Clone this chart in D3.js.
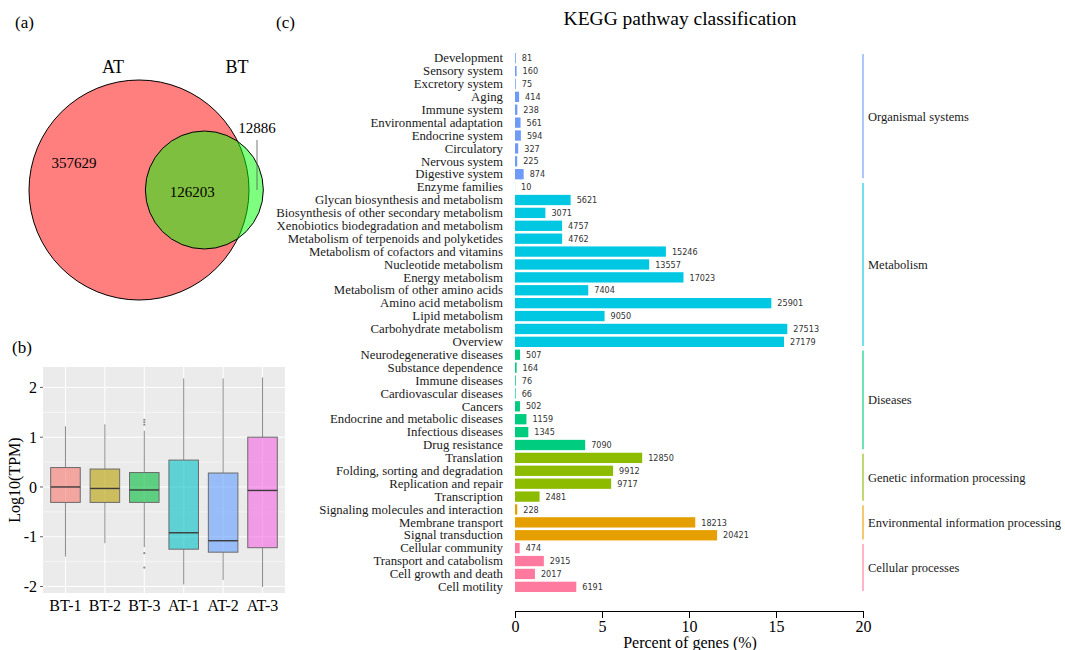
<!DOCTYPE html>
<html>
<head>
<meta charset="utf-8">
<script src="https://cdn.jsdelivr.net/npm/d3@7"></script>
<style>
  body { margin: 0; background: #fff; }
  svg { display: block; }
</style>
</head>
<body>
<script>
// ---- data ----
// (a) venn: AT only, shared, BT only
var vennSets = ["AT", "BT"];
var vennCounts = [357629, 126203, 12886];

// (b) boxplot of log10(TPM)
var boxGroups = ["BT-1", "BT-2", "BT-3", "AT-1", "AT-2", "AT-3"];
var boxColors = ["#F8766D", "#B79F00", "#00BA38", "#00BFC4", "#619CFF", "#F564E3"];
var whiskerLow = [-1.40, -1.13, -1.21, -1.96, -1.87, -2.01];
var q1 = [-0.31, -0.31, -0.31, -1.25, -1.31, -1.22];
var median = [0.00, -0.03, -0.06, -0.92, -1.08, -0.07];
var q3 = [0.39, 0.36, 0.29, 0.54, 0.28, 1.00];
var whiskerHigh = [1.22, 1.26, 1.13, 2.18, 2.18, 2.20];
var outliers = [[], [], [1.35, 1.30, 1.25, -1.33, -1.62], [], [], []];
var boxTicks = [-2, -1, 0, 1, 2];

// (c) KEGG classification
var pathways = [
  "Development", "Sensory system", "Excretory system", "Aging", "Immune system",
  "Environmental adaptation", "Endocrine system", "Circulatory", "Nervous system", "Digestive system",
  "Enzyme families", "Glycan biosynthesis and metabolism", "Biosynthesis of other secondary metabolism",
  "Xenobiotics biodegradation and metabolism", "Metabolism of terpenoids and polyketides",
  "Metabolism of cofactors and vitamins", "Nucleotide metabolism", "Energy metabolism",
  "Metabolism of other amino acids", "Amino acid metabolism", "Lipid metabolism",
  "Carbohydrate metabolism", "Overview",
  "Neurodegenerative diseases", "Substance dependence", "Immune diseases", "Cardiovascular diseases",
  "Cancers", "Endocrine and metabolic diseases", "Infectious diseases", "Drug resistance",
  "Translation", "Folding, sorting and degradation", "Replication and repair", "Transcription",
  "Signaling molecules and interaction", "Membrane transport", "Signal transduction",
  "Cellular community", "Transport and catabolism", "Cell growth and death", "Cell motility"
];
var geneCounts = [
  81, 160, 75, 414, 238, 561, 594, 327, 225, 874,
  10, 5621, 3071, 4757, 4762, 15246, 13557, 17023, 7404, 25901, 9050, 27513, 27179,
  507, 164, 76, 66, 502, 1159, 1345, 7090,
  12850, 9912, 9717, 2481,
  228, 18213, 20421,
  474, 2915, 2017, 6191
];
var groupNames = ["Organismal systems", "Metabolism", "Diseases",
  "Genetic information processing", "Environmental information processing", "Cellular processes"];
var groupSizes = [10, 13, 8, 4, 3, 4];
var groupColors = ["#6E9BF8", "#00C8E3", "#00CC80", "#8DBB00", "#E69F00", "#FF7A9E"];
var totalGenes = 175800;
var percentTicks = [0, 5, 10, 15, 20];

var serif = "'Liberation Serif', 'Times New Roman', serif";
var narrow = "'DejaVu Sans Condensed', 'Liberation Sans Narrow', 'Arial Narrow', sans-serif";

var svg = d3.select("body").append("svg")
  .attr("width", 1065).attr("height", 650)
  .style("font-family", serif);

// panel letters
svg.append("text").attr("x", 15).attr("y", 28).attr("font-size", 17).text("(a)");
svg.append("text").attr("x", 12).attr("y", 353).attr("font-size", 17).text("(b)");
svg.append("text").attr("x", 276).attr("y", 28).attr("font-size", 17).text("(c)");

// ---------- (a) Venn ----------
var atTotal = vennCounts[0] + vennCounts[1];
var btTotal = vennCounts[1] + vennCounts[2];
var rScale = d3.scaleSqrt().domain([0, atTotal]).range([0, 110]);
var r1 = rScale(atTotal), r2 = rScale(btTotal);

function lensArea(d) {
  var a = r1 * r1 * Math.acos((d * d + r1 * r1 - r2 * r2) / (2 * d * r1));
  var b = r2 * r2 * Math.acos((d * d + r2 * r2 - r1 * r1) / (2 * d * r2));
  var c = 0.5 * Math.sqrt((-d + r1 + r2) * (d + r1 - r2) * (d - r1 + r2) * (d + r1 + r2));
  return a + b - c;
}
// find centre distance so the shared area matches its count
var wanted = Math.PI * r1 * r1 * vennCounts[1] / atTotal;
var lo = r1 - r2 + 0.01, hi = r1 + r2 - 0.01;
for (var i = 0; i < 60; i++) {
  var mid = (lo + hi) / 2;
  if (lensArea(mid) > wanted) lo = mid; else hi = mid;
}
var dist = (lo + hi) / 2;
var c1 = [139, 190], c2 = [139 + dist, 190];

svg.append("circle").attr("cx", c1[0]).attr("cy", c1[1]).attr("r", r1)
  .attr("fill", "rgba(255,0,0,0.5)").attr("stroke", "#000").attr("stroke-width", 1);
svg.append("circle").attr("cx", c2[0]).attr("cy", c2[1]).attr("r", r2)
  .attr("fill", "rgba(0,255,0,0.5)").attr("stroke", "#000").attr("stroke-width", 1);

svg.append("text").attr("x", 113).attr("y", 73).attr("font-size", 18)
  .attr("text-anchor", "middle").text(vennSets[0]);
svg.append("text").attr("x", 237).attr("y", 73).attr("font-size", 18)
  .attr("text-anchor", "middle").text(vennSets[1]);
svg.append("text").attr("x", 74).attr("y", 168).attr("font-size", 15)
  .attr("text-anchor", "middle").text(vennCounts[0]);
svg.append("text").attr("x", c2[0] - 12).attr("y", 197).attr("font-size", 15)
  .attr("text-anchor", "middle").text(vennCounts[1]);
svg.append("text").attr("x", 257).attr("y", 133).attr("font-size", 15)
  .attr("text-anchor", "middle").text(vennCounts[2]);
svg.append("line").attr("x1", 257).attr("x2", 257).attr("y1", 140).attr("y2", 190)
  .attr("stroke", "#555").attr("stroke-width", 0.8);

// ---------- (b) boxplot ----------
var bx = d3.scalePoint().domain(boxGroups).range([43, 285]).padding(0.57);
var by = d3.scaleLinear().domain([-2.13, 2.41]).range([593, 367]);
var boxW = bx.step() * 0.75;

var bp = svg.append("g");
bp.append("rect").attr("x", 43).attr("y", 367).attr("width", 242).attr("height", 226)
  .attr("fill", "#EBEBEB");
bp.selectAll(".minor").data([-1.5, -0.5, 0.5, 1.5]).enter().append("line")
  .attr("x1", 43).attr("x2", 285).attr("y1", d => by(d)).attr("y2", d => by(d))
  .attr("stroke", "#fff").attr("stroke-width", 0.5);
bp.selectAll(".major").data(boxTicks).enter().append("line")
  .attr("x1", 43).attr("x2", 285).attr("y1", d => by(d)).attr("y2", d => by(d))
  .attr("stroke", "#fff").attr("stroke-width", 1);
bp.selectAll(".vgrid").data(boxGroups).enter().append("line")
  .attr("x1", d => bx(d)).attr("x2", d => bx(d)).attr("y1", 367).attr("y2", 593)
  .attr("stroke", "#fff").attr("stroke-width", 1);

var boxes = bp.selectAll(".box").data(boxGroups).enter().append("g");
boxes.append("line")
  .attr("x1", d => bx(d)).attr("x2", d => bx(d))
  .attr("y1", (d, i) => by(whiskerHigh[i])).attr("y2", (d, i) => by(q3[i]))
  .attr("stroke", "#8c8c8c").attr("stroke-width", 1);
boxes.append("line")
  .attr("x1", d => bx(d)).attr("x2", d => bx(d))
  .attr("y1", (d, i) => by(q1[i])).attr("y2", (d, i) => by(whiskerLow[i]))
  .attr("stroke", "#8c8c8c").attr("stroke-width", 1);
boxes.append("rect")
  .attr("x", d => bx(d) - boxW / 2).attr("width", boxW)
  .attr("y", (d, i) => by(q3[i])).attr("height", (d, i) => by(q1[i]) - by(q3[i]))
  .attr("fill", (d, i) => boxColors[i]).attr("fill-opacity", 0.6)
  .attr("stroke", "#6b6b6b").attr("stroke-width", 1);
boxes.append("line")
  .attr("x1", d => bx(d) - boxW / 2).attr("x2", d => bx(d) + boxW / 2)
  .attr("y1", (d, i) => by(median[i])).attr("y2", (d, i) => by(median[i]))
  .attr("stroke", "#3a3a3a").attr("stroke-width", 1.4);
boxes.each(function(d, i) {
  d3.select(this).selectAll("circle").data(outliers[i]).enter().append("circle")
    .attr("cx", bx(d)).attr("cy", v => by(v)).attr("r", 1.1).attr("fill", "#8c8c8c");
});

bp.selectAll(".ytick").data(boxTicks).enter().append("line")
  .attr("x1", 40).attr("x2", 43).attr("y1", d => by(d)).attr("y2", d => by(d))
  .attr("stroke", "#333").attr("stroke-width", 0.8);
bp.selectAll(".ylab").data(boxTicks).enter().append("text")
  .attr("x", 37).attr("y", d => by(d)).attr("dy", "0.35em")
  .attr("text-anchor", "end").attr("font-size", 16).text(d => d);
bp.selectAll(".xlab").data(boxGroups).enter().append("text")
  .attr("x", d => bx(d)).attr("y", 611).attr("text-anchor", "middle")
  .attr("font-size", 16).text(d => d);
bp.append("text").attr("transform", "translate(20,480) rotate(-90)")
  .attr("text-anchor", "middle").attr("font-size", 16).text("Log10(TPM)");

// ---------- (c) KEGG ----------
var x = d3.scaleLinear().domain([0, 20]).range([515, 863]);
var y = d3.scaleBand().domain(pathways).range([53, 592]).paddingInner(0.2);
var rowColor = [];
groupSizes.forEach((n, g) => { for (var k = 0; k < n; k++) rowColor.push(groupColors[g]); });
var pct = geneCounts.map(c => c / totalGenes * 100);

svg.append("text").attr("x", 680).attr("y", 25).attr("text-anchor", "middle")
  .attr("font-size", 19.5).text("KEGG pathway classification");

var kg = svg.append("g");
kg.selectAll(".bar").data(pathways).enter().append("rect")
  .attr("x", x(0)).attr("y", d => y(d))
  .attr("width", (d, i) => x(pct[i]) - x(0)).attr("height", y.bandwidth())
  .attr("fill", (d, i) => rowColor[i]);
kg.selectAll(".cat").data(pathways).enter().append("text")
  .attr("x", 503).attr("y", d => y(d) + y.bandwidth() / 2).attr("dy", "0.33em")
  .attr("text-anchor", "end").attr("font-size", 12.8).attr("fill", "#1a1a1a").text(d => d);
kg.selectAll(".val").data(pathways).enter().append("text")
  .attr("x", (d, i) => x(pct[i]) + 6).attr("y", d => y(d) + y.bandwidth() / 2).attr("dy", "0.35em")
  .attr("font-family", narrow).attr("font-size", 9).attr("fill", "#333")
  .text((d, i) => geneCounts[i]);

// group brackets
var start = 0;
groupNames.forEach(function(name, g) {
  var first = pathways[start], last = pathways[start + groupSizes[g] - 1];
  var top = y(first) + 1, bot = y(last) + y.bandwidth() - 1;
  kg.append("line").attr("x1", 863).attr("x2", 863).attr("y1", top).attr("y2", bot)
    .attr("stroke", groupColors[g]).attr("stroke-opacity", 0.7).attr("stroke-width", 1.6);
  kg.append("text").attr("x", 868).attr("y", (top + bot) / 2).attr("dy", "0.35em")
    .attr("font-size", 12.5).attr("fill", "#1a1a1a").text(name);
  start += groupSizes[g];
});

var axis = d3.axisBottom(x).tickValues(percentTicks).tickSize(7).tickSizeOuter(0);
var ax = svg.append("g").attr("transform", "translate(0,611)").call(axis);
ax.select(".domain").attr("stroke", "#000");
ax.selectAll(".tick line").attr("stroke", "#000");
ax.selectAll(".tick text").attr("font-family", serif).attr("font-size", 16).attr("fill", "#000");
svg.append("text").attr("x", 690).attr("y", 648).attr("text-anchor", "middle")
  .attr("font-size", 16).text("Percent of genes (%)");
</script>
</body>
</html>
